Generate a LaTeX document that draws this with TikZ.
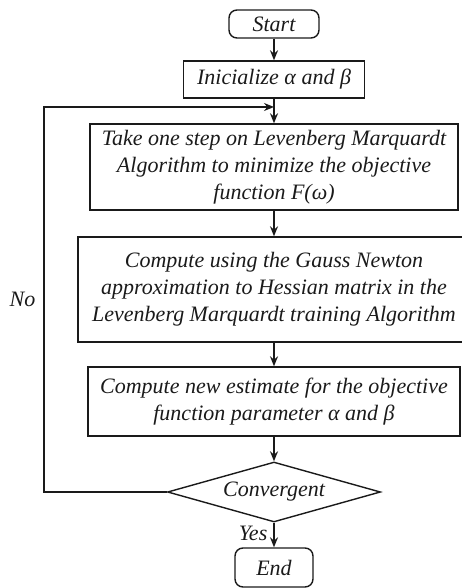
\documentclass[tikz,border=0pt]{standalone}
\usepackage{fontspec}
\setmainfont{Liberation Serif}
\usetikzlibrary{arrows.meta,shapes.geometric}
\definecolor{flowink}{HTML}{1A1A1A}

\begin{document}
\begin{tikzpicture}[
  x=1pt,
  y=-1pt,
  every node/.style={font=\fontsize{22}{27}\selectfont\itshape, text=flowink},
  process/.style={draw=flowink, line width=1.4pt, align=center, inner sep=0pt},
  terminal/.style={process, rounded corners=8pt},
  decision/.style={draw=flowink, line width=1.4pt, diamond, aspect=3.5, inner sep=0pt},
  flowarrow/.style={draw=flowink, line width=1.4pt, -{Stealth[length=10pt,width=8pt]}}
]
  \useasboundingbox (0,0) rectangle (461,588);

  \node[terminal, minimum width=90pt, minimum height=28pt] (start) at (274,24) {Start};
  \node[process, minimum width=181pt, minimum height=37pt] (init) at (274,79.5)
    {Inicialize α and β};
  \node[process, minimum width=368pt, minimum height=86pt] (step) at (274,167)
    {Take one step on Levenberg Marquardt\\Algorithm to minimize the objective\\function F(ω)};
  \node[process, minimum width=392pt, minimum height=105pt] (gauss) at (274,289.5)
    {Compute using the Gauss Newton\\approximation to Hessian matrix in the\\Levenberg Marquardt training Algorithm};
  \node[process, minimum width=372pt, minimum height=69pt] (est) at (274,401.5)
    {Compute new estimate for the objective\\function parameter α and β};
  \node[decision, minimum width=213pt, minimum height=60pt] (conv) at (274,492) {Convergent};
  \node[terminal, minimum width=78pt, minimum height=39pt] (end) at (274,567.5) {End};

  \coordinate (loopcorner) at (44,107);
  \coordinate (loopin) at (274,107);

  \draw[flowarrow] (start) -- (init);
  \draw[flowarrow] (init) -- (step);
  \draw[flowarrow] (step) -- (gauss);
  \draw[flowarrow] (gauss) -- (est);
  \draw[flowarrow] (est) -- (conv);
  \draw[flowarrow] (conv) -- node[left, pos=0.45, inner sep=6pt] {Yes} (end);
  \draw[flowarrow] (conv.west) -| node[pos=0.75, left, inner sep=8pt] {No} (loopcorner) -- (loopin);
\end{tikzpicture}
\end{document}
